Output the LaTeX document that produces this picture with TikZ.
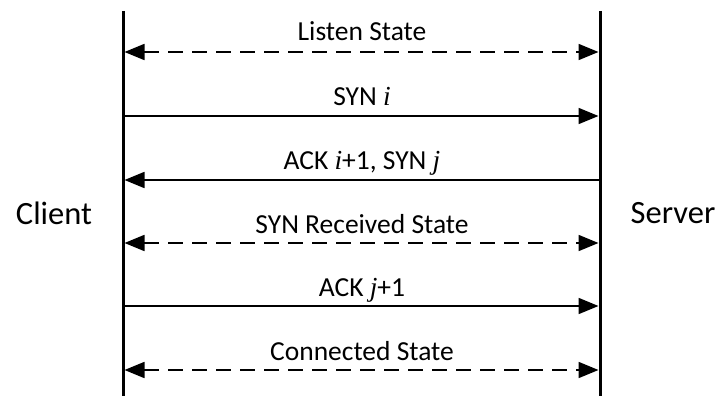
\documentclass[tikz,border=0pt]{standalone}
\usepackage{fontspec}
\setmainfont{Carlito}
\newfontfamily\varfont{Liberation Serif}
\usetikzlibrary{arrows.meta}
\newcommand{\var}[1]{{\varfont\itshape #1}}
\begin{document}
\begin{tikzpicture}[x=1pt,y=-1pt,
  lifeline/.style={line width=3pt},
  msg/.style={line width=1.8pt,-{Triangle[length=20pt,width=16pt]}},
  statemsg/.style={line width=1.8pt,dash pattern=on 15pt off 9pt,
    {Triangle[length=20pt,width=16pt]}-{Triangle[length=20pt,width=16pt]}},
  lbl/.style={font=\fontsize{27.5}{32}\selectfont,inner sep=0pt,anchor=base},
  side/.style={font=\fontsize{32.5}{36}\selectfont,inner sep=0pt}]
\useasboundingbox (0,0) rectangle (720,396);

% lifelines
\coordinate (ctop) at (123,11);
\coordinate (cbot) at (123,397);
\coordinate (stop) at (600,11);
\coordinate (sbot) at (600,397);
\draw[lifeline] (ctop) -- (cbot);
\draw[lifeline] (stop) -- (sbot);

\node[side] (client) at (54,213) {Client};
\node[side] (server) at (673,213) {Server};

% message endpoints on both lifelines
\foreach \k/\y in {1/52,2/116,3/180,4/243,5/306,6/370}{
  \coordinate (c\k) at (124.5,\y);
  \coordinate (s\k) at (598.5,\y);
}

\draw[statemsg] (c1) -- (s1);
\draw[msg] (c2) -- (s2);
\draw[msg] (s3) -- (c3);
\draw[statemsg] (c4) -- (s4);
\draw[msg] (c5) -- (s5);
\draw[statemsg] (c6) -- (s6);

\node[lbl] (l1) at (362,41) {Listen State};
\node[lbl] (l2) at (362,105) {SYN \var{i}};
\node[lbl] (l3) at (362,169) {ACK \var{i}+1, SYN \var{j}};
\node[lbl] (l4) at (362,233) {SYN Received State};
\node[lbl] (l5) at (362,296) {ACK \var{j}+1};
\node[lbl] (l6) at (362,360) {Connected State};
\end{tikzpicture}
\end{document}
